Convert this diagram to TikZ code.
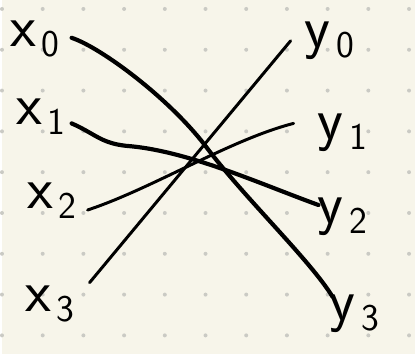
\documentclass[tikz,border=0pt]{standalone}
\usepackage{tikz}
\usetikzlibrary{positioning}

\definecolor{paper}{HTML}{F7F5EA}
\definecolor{dotgrey}{HTML}{CACAC4}
\newcommand{\wirelabel}[2]{#1\kern6pt\raisebox{-10pt}{\fontsize{38}{38}\selectfont #2}}

\begin{document}
\begin{tikzpicture}[
    x=1pt,
    y=-1pt,
    inklabel/.style={
        inner sep=0pt,
        anchor=base west,
        font=\fontsize{60}{60}\selectfont\sffamily
    },
    inkthick/.style={
        draw=black,
        line width=4.2pt,
        line cap=round,
        line join=round
    },
    inkthin/.style={
        draw=black,
        line width=3pt,
        line cap=round
    }
]

% Paper
\fill[paper] (0,0) rectangle (415,356);
\foreach \i in {0,...,10}
    \foreach \j in {0,...,8}
        \fill[dotgrey] (\i*40.9,9+\j*41) circle[radius=2pt];

% Inputs
\node[inklabel] (x0) at (8,47) {\wirelabel{x}{0}};
\node[inklabel] (x1) at (14,125) {\wirelabel{x}{1}};
\node[inklabel] (x2) at (25,210) {\wirelabel{x}{2}};
\node[inklabel] (x3) at (23,313) {\wirelabel{x}{3}};

% Outputs
\node[inklabel] (y0) at (304,48) {\wirelabel{y}{0}};
\node[inklabel] (y1) at (317,140) {\wirelabel{y}{1}};
\node[inklabel] (y2) at (317,225) {\wirelabel{y}{2}};
\node[inklabel] (y3) at (329,322) {\wirelabel{y}{3}};

% Wires
\draw[inkthick]
([shift={(62,-9)}]x0.base west)
.. controls (100,48) and (170,100) .. (207,150)
.. controls (245,200) and (310,262) ..
([shift={(3,-24)}]y3.base west);

\draw[inkthick]
([shift={(56,-1)}]x1.base west)
.. controls (95,135) and (100,145) .. (130,147)
.. controls (190,153) and (260,185) ..
([shift={(1,-19)}]y2.base west);

\draw[inkthin]
([shift={(61,1)}]x2.base west)
.. controls (150,190) and (230,140) ..
([shift={(-24,-16)}]y1.base west);

\draw[inkthin]
([shift={(65,-29)}]x3.base west)
--
([shift={(-14,-7)}]y0.base west);

\end{tikzpicture}
\end{document}
